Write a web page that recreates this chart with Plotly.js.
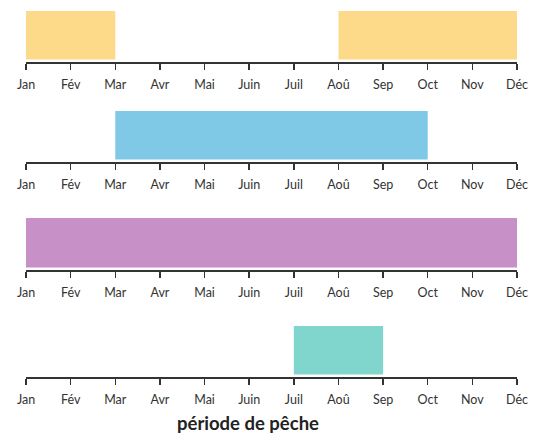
<!DOCTYPE html>
<html>
<head>
<meta charset="utf-8">
<script src="https://cdn.plot.ly/plotly-3.0.1.min.js"></script>
<style>html,body{margin:0;padding:0;background:#fff;}#chart{width:533px;height:434px;}</style>
</head>
<body>
<div id="chart"></div>
<script>
const months = ['Jan','Fév','Mar','Avr','Mai','Juin','Juil','Aoû','Sep','Oct','Nov','Déc'];
// fishing periods per row: start month and end month
const row1Start = ['Jan','Aoû'];
const row1End   = ['Mar','Déc'];
const row2Start = ['Mar'];
const row2End   = ['Oct'];
const row3Start = ['Jan'];
const row3End   = ['Déc'];
const row4Start = ['Juil'];
const row4End   = ['Sep'];
const titleText = 'période de pêche';

const rows = [
  {s: row1Start, e: row1End, color: 'rgb(253,218,138)'},
  {s: row2Start, e: row2End, color: 'rgb(127,201,230)'},
  {s: row3Start, e: row3End, color: 'rgb(199,144,199)'},
  {s: row4Start, e: row4End, color: 'rgb(128,213,204)'}
];
// pixel layout (top of bar area, axis line)
const H = 434;
const geom = [[11,62],[111,162],[218,270],[326,377]];

const traces = [];
const layout = {
  width: 533, height: 434,
  margin: {l: 26, r: 16, t: 0, b: 0},
  paper_bgcolor: '#fff', plot_bgcolor: '#fff',
  showlegend: false, hovermode: false, barmode: 'overlay',
  font: {family: 'Lato, "Noto Sans", sans-serif', color: '#333', size: 12},
  annotations: [{
    text: '<b>' + titleText + '</b>', xref: 'paper', yref: 'paper',
    x: (248 - 26) / 491, y: (H - 423) / H, xanchor: 'center', yanchor: 'middle',
    showarrow: false, font: {size: 18.5, color: '#222', family: 'Lato, "Noto Sans", sans-serif'}
  }]
};

rows.forEach((r, i) => {
  const n = i + 1;
  const sfx = n === 1 ? '' : String(n);
  const starts = r.s.map(m => months.indexOf(m));
  const ends = r.e.map(m => months.indexOf(m));
  traces.push({
    type: 'bar', orientation: 'h',
    x: ends.map((e, k) => e - starts[k]),
    base: starts,
    y: starts.map(() => 0.5),
    width: starts.map(() => 1),
    marker: {color: r.color, line: {width: 0}},
    xaxis: 'x' + sfx, yaxis: 'y' + sfx
  });
  const [top, axis] = geom[i];
  layout['xaxis' + sfx] = {
    anchor: 'y' + sfx, domain: [0, 1], range: [0, 11],
    tickmode: 'array', tickvals: months.map((m, k) => k), ticktext: months,
    ticks: 'outside', ticklen: 6, tickwidth: 1.5, tickcolor: '#333',
    ticklabelstandoff: 4,
    showline: true, linecolor: '#333', linewidth: 1.5,
    showgrid: false, zeroline: false, fixedrange: true,
    tickfont: {size: 12.5, color: '#333'}
  };
  layout['yaxis' + sfx] = {
    anchor: 'x' + sfx, domain: [(H - axis) / H, (H - top) / H],
    range: [-0.05, 1], visible: false, showgrid: false, zeroline: false, fixedrange: true
  };
});

Plotly.newPlot('chart', traces, layout, {displayModeBar: false, staticPlot: true});
</script>
</body>
</html>
